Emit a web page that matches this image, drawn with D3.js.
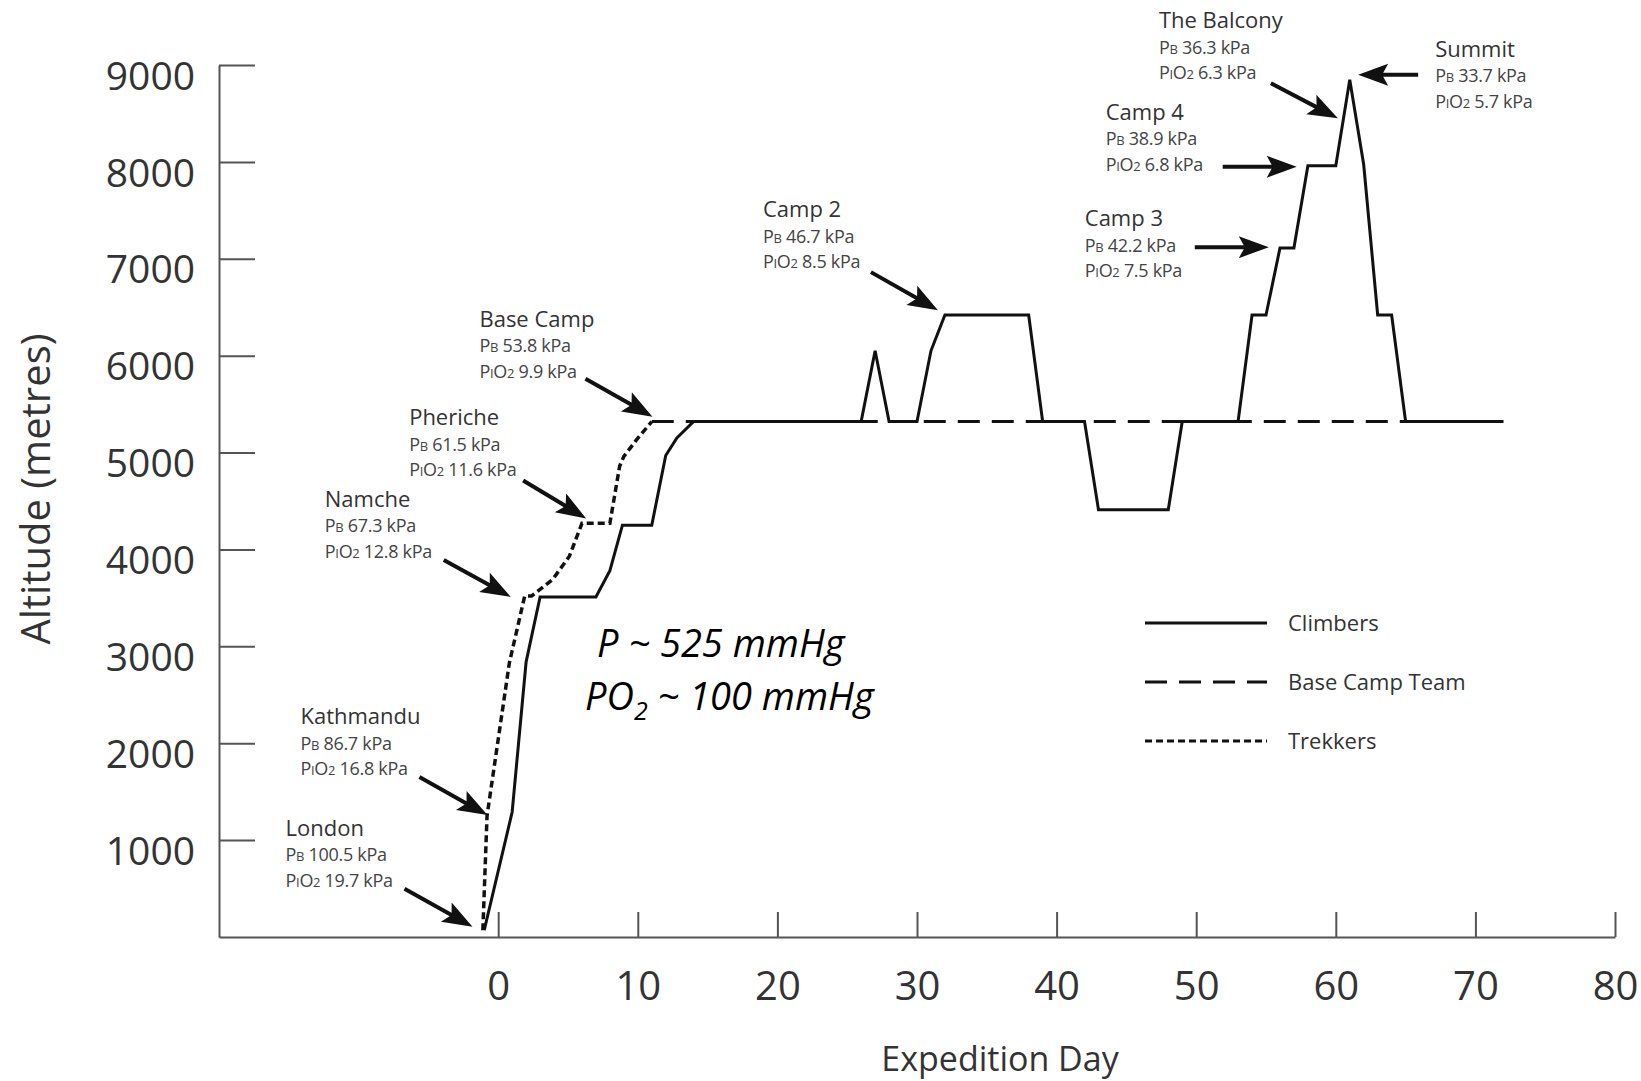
<!DOCTYPE html>
<html>
<head>
<meta charset="utf-8">
<script src="https://cdn.jsdelivr.net/npm/d3@7"></script>
<style>
    body { margin: 0; background: #fff; }
    svg { display: block; font-family: "Open Sans", "Noto Sans", sans-serif; }
</style>
</head>
<body>
<svg id="chart" width="1641" height="1081"></svg>
<script>
// Altitude profiles: [expedition day, altitude in metres]
const climbers = [
    [-1, 70], [1, 1290], [2, 2840], [3, 3510], [7, 3510], [8, 3780], [8.9, 4250], [11, 4250],
    [12, 4970], [12.8, 5150], [14, 5320], [26, 5320], [27, 6050], [28, 5320], [30, 5320],
    [31, 6050], [32, 6420], [38, 6420], [39, 5320], [42, 5320], [43, 4410], [48, 4410],
    [49, 5320], [53, 5320], [54, 6420], [55, 6420], [56, 7110], [57, 7110], [58, 7960],
    [60, 7960], [61, 8848], [62, 7970], [63, 6420], [64, 6420], [65, 5320], [72, 5320]
];
const trekkers = [
    [-1.1, 70], [-0.8, 1250], [0.8, 2830], [1.9, 3520], [2.4, 3520], [3.9, 3690], [5.1, 3930],
    [6, 4270], [8, 4270], [8.7, 4860], [9, 4960], [9.9, 5130], [11, 5320]
];
const baseCampTeam = [[11, 5320], [72, 5320]];

// Axis ticks
const xTicks = [0, 10, 20, 30, 40, 50, 60, 70, 80];
const yTicks = [1000, 2000, 3000, 4000, 5000, 6000, 7000, 8000, 9000];

// Sites along the route: arrow tip (day, metres), barometric and inspired O2 pressure
const siteNames = ["London", "Kathmandu", "Namche", "Pheriche", "Base Camp", "Camp 2", "Camp 3", "Camp 4", "The Balcony", "Summit"];
const siteDay = [-1.84, -0.77, 0.9, 6.3, 11.05, 31.5, 55.2, 57.2, 60.15, 61.6];
const siteAlt = [106, 1258, 3510, 4320, 5370, 6470, 7120, 7950, 8450, 8900];
const sitePB = ["100.5", "86.7", "67.3", "61.5", "53.8", "46.7", "42.2", "38.9", "36.3", "33.7"];
const sitePIO2 = ["19.7", "16.8", "12.8", "11.6", "9.9", "8.5", "7.5", "6.8", "6.3", "5.7"];

// Label layout relative to the arrow tip (pixels): text origin and arrow tail
const labelOffset = [[-187, -91], [-187, -91], [-186, -90], [-177, -93], [-173, -90], [-175, -93], [-184, -21], [-191, -47], [-179, -90], [77, -18]];
const arrowTail = [[-68, -38], [-68, -38], [-67, -37], [-63, -38], [-67, -38], [-67, -38], [-74, 0], [-74, 0], [-67, -35], [60, 0]];

const seriesNames = ["Climbers", "Base Camp Team", "Trekkers"];
const seriesDash = { "Climbers": null, "Base Camp Team": "22,12", "Trekkers": "7,4" };

const svg = d3.select("#chart");
const margin = { top: 65, right: 26, bottom: 144, left: 219 };
const width = +svg.attr("width") - margin.left - margin.right;
const height = +svg.attr("height") - margin.top - margin.bottom;

const g = svg.append("g").attr("transform", `translate(${margin.left},${margin.top})`);

const x = d3.scaleLinear().domain([-20, 80]).range([0, width]);
const y = d3.scaleLinear().domain([0, 9000]).range([height, 0]);

const axisColor = "#555";
const textColor = "#333";

// Y axis
const yAxis = g.append("g")
    .call(d3.axisLeft(y).tickValues(yTicks).tickSize(-36).tickSizeOuter(0).tickPadding(24).tickFormat(d3.format("d")));
yAxis.select(".domain").attr("stroke", axisColor).attr("stroke-width", 2);
yAxis.selectAll(".tick line").attr("stroke", axisColor).attr("stroke-width", 2);
yAxis.selectAll(".tick text")
    .attr("fill", textColor)
    .attr("font-size", 39)
    .attr("font-family", "Open Sans")
    .attr("dy", "0.62em");

// X axis
const xAxis = g.append("g")
    .attr("transform", `translate(0,${height})`)
    .call(d3.axisBottom(x).tickValues(xTicks).tickSize(-25).tickSizeOuter(0).tickPadding(35));
xAxis.select(".domain").attr("stroke", axisColor).attr("stroke-width", 2);
xAxis.selectAll(".tick line").attr("stroke", axisColor).attr("stroke-width", 2);
xAxis.selectAll(".tick text")
    .attr("fill", textColor)
    .attr("font-size", 40)
    .attr("font-family", "Open Sans");

// Axis titles
svg.append("text")
    .attr("x", 1000)
    .attr("y", 1071)
    .attr("text-anchor", "middle")
    .attr("fill", textColor)
    .attr("font-size", 34)
    .text("Expedition Day");

svg.append("text")
    .attr("transform", "translate(50,489) rotate(-90)")
    .attr("text-anchor", "middle")
    .attr("fill", textColor)
    .attr("font-size", 40)
    .text("Altitude (metres)");

// Profiles
const line = d3.line()
    .x(d => x(d[0]))
    .y(d => y(d[1]));

const profiles = { "Base Camp Team": baseCampTeam, "Trekkers": trekkers, "Climbers": climbers };

["Base Camp Team", "Trekkers", "Climbers"].forEach(name => {
    g.append("path")
        .datum(profiles[name])
        .attr("fill", "none")
        .attr("stroke", "#111")
        .attr("stroke-width", name === "Trekkers" ? 3.5 : 3)
        .attr("stroke-linejoin", "miter")
        .attr("stroke-dasharray", seriesDash[name])
        .attr("d", line);
});

// Arrow with a filled head
function drawArrow(sel, x0, y0, x1, y1) {
    const dx = x1 - x0, dy = y1 - y0;
    const len = Math.hypot(dx, dy);
    const ux = dx / len, uy = dy / len;
    const headLen = 30, headHalf = 11;
    const bx = x1 - ux * headLen, by = y1 - uy * headLen;
    sel.append("line")
        .attr("x1", x0).attr("y1", y0)
        .attr("x2", bx + ux * 8).attr("y2", by + uy * 8)
        .attr("stroke", "#111")
        .attr("stroke-width", 4);
    sel.append("path")
        .attr("d", `M${x1},${y1}L${bx - uy * headHalf},${by + ux * headHalf}L${bx + ux * 6},${by + uy * 6}L${bx + uy * headHalf},${by - ux * headHalf}Z`)
        .attr("fill", "#111");
}

// Site annotations
siteNames.forEach((name, i) => {
    const tx = x(siteDay[i]), ty = y(siteAlt[i]);
    const a = g.append("g").attr("class", "site");
    const lx = tx + labelOffset[i][0], ly = ty + labelOffset[i][1];

    a.append("text")
        .attr("x", lx).attr("y", ly)
        .attr("fill", textColor)
        .attr("font-size", 22)
        .text(name);

    const pb = a.append("text")
        .attr("x", lx).attr("y", ly + 25.5)
        .attr("fill", "#444")
        .attr("font-size", 18)
        .attr("letter-spacing", -0.3);
    pb.append("tspan").text("P");
    pb.append("tspan").attr("font-size", 13).text("B");
    pb.append("tspan").text(` ${sitePB[i]} kPa`);

    const pio = a.append("text")
        .attr("x", lx).attr("y", ly + 51)
        .attr("fill", "#444")
        .attr("font-size", 18)
        .attr("letter-spacing", -0.3);
    pio.append("tspan").text("P");
    pio.append("tspan").attr("font-size", 13).text("I");
    pio.append("tspan").text("O");
    pio.append("tspan").attr("font-size", 13).text("2");
    pio.append("tspan").text(` ${sitePIO2[i]} kPa`);

    drawArrow(a, tx + arrowTail[i][0], ty + arrowTail[i][1], tx, ty);
});

// Legend
const legend = svg.append("g").attr("transform", "translate(1145,623)");
seriesNames.forEach((name, i) => {
    const row = legend.append("g").attr("transform", `translate(0,${i * 59})`);
    row.append("line")
        .attr("x1", 0).attr("x2", 122)
        .attr("y1", 0).attr("y2", 0)
        .attr("stroke", "#111")
        .attr("stroke-width", 3)
        .attr("stroke-dasharray", seriesDash[name]);
    row.append("text")
        .attr("x", 143).attr("y", 8)
        .attr("fill", textColor)
        .attr("font-size", 22)
        .text(name);
});

// Base camp pressure note
const note = svg.append("g")
    .attr("font-style", "italic")
    .attr("font-size", 38)
    .attr("fill", "#000");
note.append("text")
    .attr("x", 597).attr("y", 657)
    .text("P ~ 525 mmHg");
const po2 = note.append("text")
    .attr("x", 585).attr("y", 710);
po2.append("tspan").text("PO");
po2.append("tspan").attr("font-size", 25).attr("dy", 10).text("2");
po2.append("tspan").attr("dy", -10).text(" ~ 100 mmHg");
</script>
</body>
</html>
